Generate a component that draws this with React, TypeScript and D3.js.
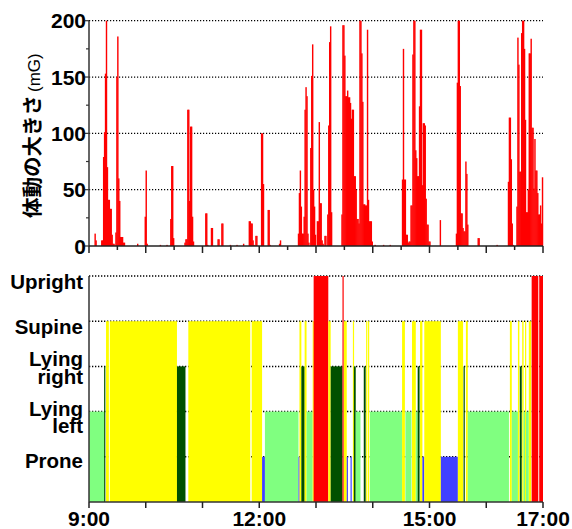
import React from "react";
import * as d3 from "d3";

// ---- Data ----
// activity magnitude (mG) per minute after 9:00: [minute, value]
const activity: [number, number][] = [
  [6, 11], [7, 5], [13, 5], [14, 5], [15, 79], [16, 101], [17, 153], [18, 200], [19, 70], [20, 41], [21, 41], [22, 33], [23, 33], [24, 10], [25, 2], [26, 2],
  [28, 12], [29, 150], [30, 186], [31, 60], [32, 40], [33, 8], [34, 8], [35, 8], [36, 3], [37, 3],
  [51, 2], [59, 26], [60, 67], [61, 2], [75, 1], [82, 1], [86, 24], [87, 71], [88, 71], [89, 7],
  [101, 3], [102, 6], [103, 6], [104, 121], [105, 121], [106, 40], [107, 106], [108, 106], [109, 26], [110, 4],
  [123, 29], [124, 29], [125, 1], [129, 16], [130, 16], [136, 6], [137, 6], [140, 20], [141, 20], [149, 1], [156, 1], [163, 2],
  [169, 22], [170, 22], [171, 20], [172, 20], [173, 5], [174, 1], [176, 9], [177, 9], [182, 100], [183, 100], [184, 55], [189, 32], [190, 32], [191, 1], [201, 2], [202, 5],
  [221, 11], [222, 47], [223, 67], [224, 35], [225, 11], [226, 11], [227, 26], [228, 121], [229, 141], [230, 133], [231, 11], [232, 3],
  [234, 87], [235, 151], [236, 179], [237, 50], [238, 35], [239, 10],
  [241, 22], [242, 22], [243, 110], [244, 38], [245, 38], [246, 5], [247, 2], [249, 9], [250, 9], [252, 28], [253, 107], [254, 181], [255, 195], [256, 30],
  [267, 28], [268, 196], [269, 196], [270, 169], [271, 133], [272, 133], [273, 138], [274, 132], [275, 132], [276, 127], [277, 113], [278, 121], [279, 121],
  [280, 62], [281, 62], [282, 50], [283, 24], [284, 24], [285, 20], [286, 200], [287, 200], [288, 171], [289, 128], [290, 37], [291, 37], [292, 36], [293, 36],
  [294, 192], [295, 41], [296, 22], [297, 22], [298, 22], [299, 4], [302, 1], [311, 1], [318, 1],
  [331, 59], [332, 175], [333, 59], [334, 59], [335, 10], [336, 10], [337, 3], [338, 4], [339, 4], [340, 36], [341, 36], [342, 170], [343, 200], [344, 200],
  [345, 85], [346, 78], [347, 62], [348, 62], [349, 124], [350, 192], [351, 192], [352, 54], [353, 109], [354, 109], [355, 107], [356, 42], [357, 19], [358, 19], [359, 4], [360, 4],
  [371, 23],
  [388, 11], [389, 145], [390, 200], [391, 200], [392, 142], [393, 29], [394, 29], [395, 16], [396, 13], [397, 13], [398, 75], [399, 64], [400, 19],
  [411, 7], [412, 7], [431, 1],
  [443, 57], [444, 114], [445, 114], [446, 77], [447, 20], [448, 1],
  [452, 35], [453, 185], [454, 161], [455, 66], [456, 66], [457, 189], [458, 200], [459, 200], [460, 175], [461, 112], [462, 30], [463, 30], [464, 50],
  [465, 171], [466, 171], [467, 184], [468, 105], [469, 105], [470, 51], [471, 95], [472, 67], [473, 67], [474, 47], [475, 28], [476, 28], [477, 36], [478, 20], [479, 61],
];

// posture categories: level 1..5
const postureNames: string[][] = [["Prone"], ["Lying", "left"], ["Lying", "right"], ["Supine"], ["Upright"]];
const postureColors = ["#4040ff", "#80ff80", "#005000", "#ffff00", "#ff0000"];
// label first-line baseline offsets relative to level line
const postureLabelDy: number[] = [11, 4, 0, 13, 13];

// posture segments: [start minute, end minute, level]
const postureSegments: [number, number, number][] = [
  [0, 16, 2], [16, 17, 3], [18, 21, 4], [22, 93, 4], [93, 102, 3], [105, 170.5, 4], [172, 183, 4], [183, 186, 1], [186, 221.5, 2], [221.5, 222.5, 1],
  [222.5, 224.5, 4], [224.5, 228, 3], [228, 230, 4], [230, 236.5, 2], [236.5, 237.5, 4], [237.5, 253, 5], [253, 255.5, 4], [255.5, 268, 3], [268, 269.2, 5],
  [269.5, 272.5, 4], [272.5, 273.7, 1], [276.5, 277.7, 1], [279, 280, 4], [280, 282, 3], [282, 287, 2], [290.5, 292.5, 3], [293, 294, 4], [295, 296, 4],
  [297, 331, 2], [331, 334, 4], [334.5, 341, 2], [341.5, 345.5, 4], [345.5, 347.5, 2], [347.5, 349.5, 3], [350, 352.5, 4], [352.5, 354.5, 1], [354.5, 372, 4],
  [372, 390, 1], [390, 395.5, 4], [396, 397.3, 3], [398.5, 400.5, 4], [400.5, 444, 2], [445, 447, 4], [447, 453.5, 2], [453.5, 455, 4], [455.5, 457.5, 3],
  [458, 459.5, 4], [459.5, 461, 2], [461, 462, 4], [462, 465, 2], [465, 467.5, 4], [468, 475, 5], [476, 480, 5],
];

const yTopTicks = [0, 50, 100, 150, 200];
const timeLabels = ["9:00", "12:00", "15:00", "17:00"];
const timeLabelMinutes = [0, 180, 360, 480];

const FONT = "'Liberation Sans', Arial, Helvetica, sans-serif";

export default function App() {
  const x = d3.scaleLinear().domain([0, 480]).range([89, 543]);
  const yTop = d3.scaleLinear().domain([0, 200]).range([246, 20.7]);
  const yBot = d3.scaleLinear().domain([0, 5]).range([502, 276]);

  const halfHours = d3.range(0, 481, 30);
  const hours = d3.range(0, 481, 60);
  const minorY = d3.range(0, 201, 25);
  const step = x(1) - x(0);

  return (
    <svg width={572} height={529} style={{ position: "absolute", left: 0, top: 0, background: "#fff" }}>
      {/* top panel grid */}
      {yTopTicks.filter((v) => v > 0).map((v) => (
        <line key={"g" + v} x1={x(0)} x2={x(480)} y1={yTop(v)} y2={yTop(v)} stroke="#000" strokeWidth={1.2} strokeDasharray="1.2,1.8" />
      ))}
      {/* activity bars */}
      {activity.map(([m, v], i) => (
        <rect key={"a" + i} x={x(m) - step * 0.25} width={step * 1.5} y={yTop(v)} height={yTop(0) - yTop(v)} fill="#ff0000" />
      ))}
      {/* top axes */}
      <line x1={x(0)} x2={x(0)} y1={yTop(200)} y2={yTop(0)} stroke="#333" strokeWidth={1.5} />
      <line x1={x(0)} x2={x(480)} y1={yTop(0)} y2={yTop(0)} stroke="#222" strokeWidth={1.5} />
      {minorY.map((v) => (
        <line key={"yt" + v} x1={x(0) - (v % 50 === 0 ? 4 : 3)} x2={x(0)} y1={yTop(v)} y2={yTop(v)} stroke="#333" strokeWidth={1.2} />
      ))}
      {halfHours.map((m) => (
        <line key={"xt" + m} x1={x(m)} x2={x(m)} y1={yTop(0)} y2={yTop(0) + (m % 60 === 0 ? 7 : 4)} stroke="#222" strokeWidth={1.5} />
      ))}
      {yTopTicks.map((v) => (
        <text key={"yl" + v} x={86} y={yTop(v) + 7.5} textAnchor="end" fontFamily={FONT} fontWeight="bold" fontSize={21} fill="#000">
          {v}
        </text>
      ))}
      <text transform="translate(40,218) rotate(-90)" fontFamily="'Noto Sans CJK JP', sans-serif" fontWeight="bold" fontSize={20.5} fill="#000">
        体動の大きさ
        <tspan fontFamily={FONT} fontWeight="normal" fontSize={17} dx={3}>(mG)</tspan>
      </text>

      {/* bottom panel grid */}
      {[1, 2, 3, 4, 5].map((lv) => (
        <line key={"bg" + lv} x1={x(0)} x2={x(480)} y1={yBot(lv)} y2={yBot(lv)} stroke="#000" strokeWidth={1.5} strokeDasharray="1.3,1.7" />
      ))}
      {/* posture bars */}
      {postureSegments.map(([s, e, lv], i) => (
        <rect key={"p" + i} x={x(s)} width={Math.max(x(e) - x(s), 1.2)} y={yBot(lv)} height={yBot(0) - yBot(lv)} fill={postureColors[lv - 1]} />
      ))}
      {/* bottom axes */}
      <line x1={x(0)} x2={x(0)} y1={yBot(5)} y2={yBot(0)} stroke="#333" strokeWidth={1.5} />
      <line x1={x(0)} x2={x(480)} y1={yBot(0)} y2={yBot(0)} stroke="#333" strokeWidth={1.5} />
      {hours.map((m) => (
        <line key={"bt" + m} x1={x(m)} x2={x(m)} y1={yBot(0)} y2={yBot(0) + 6} stroke="#222" strokeWidth={1.5} />
      ))}
      {postureNames.map((lines, i) => (
        <text key={"pl" + i} x={83} y={yBot(i + 1) + postureLabelDy[i]} textAnchor="end" fontFamily={FONT} fontWeight="bold" fontSize={20.5} fill="#000">
          {lines.map((t, j) => (
            <tspan key={j} x={83} dy={j === 0 ? 0 : 17.5}>
              {t}
            </tspan>
          ))}
        </text>
      ))}
      {timeLabels.map((t, i) => (
        <text key={"tl" + i} x={x(timeLabelMinutes[i])} y={526} textAnchor="middle" fontFamily={FONT} fontWeight="bold" fontSize={21} fill="#000">
          {t}
        </text>
      ))}
    </svg>
  );
}
